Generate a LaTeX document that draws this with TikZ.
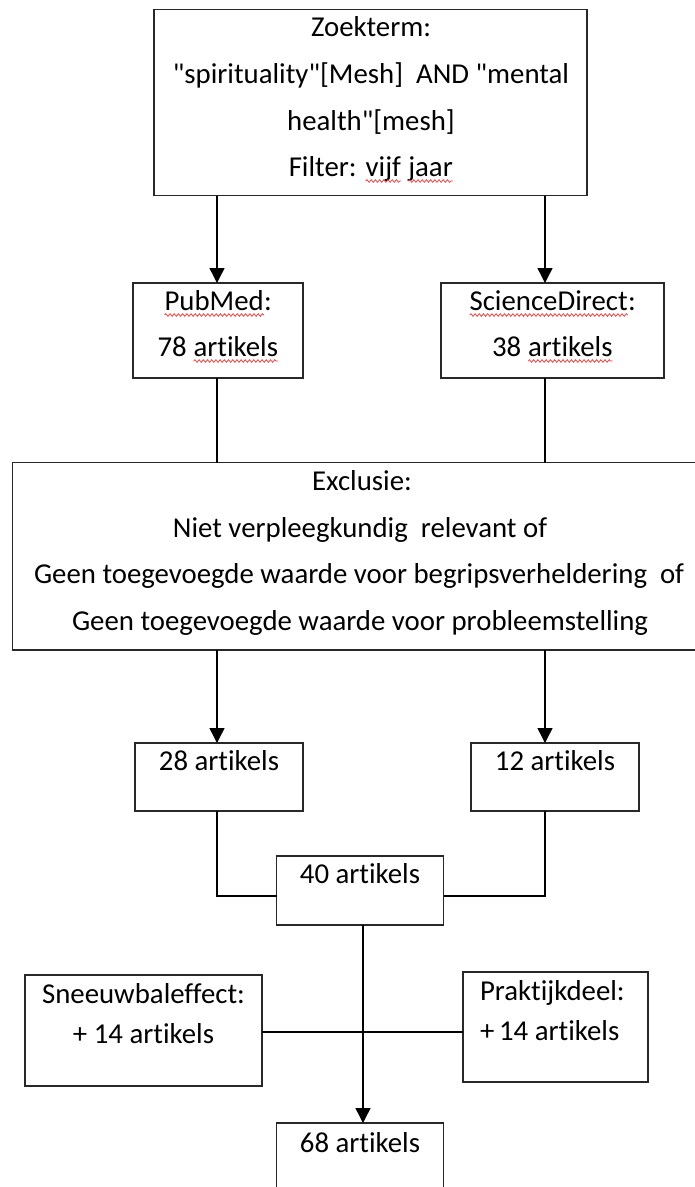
\documentclass[tikz,border=0pt]{standalone}
\usepackage{fontspec}
\newfontfamily\calfont{Carlito}[Ligatures={NoCommon,NoContextual}]
\usetikzlibrary{arrows.meta,decorations.pathmorphing}
\definecolor{squig}{RGB}{240,70,70}
\definecolor{boxline}{RGB}{40,40,40}
\newcommand\sqw[1]{\tikz[baseline=(sqwn.base)]{\node[inner sep=0pt,outer sep=0pt,anchor=base](sqwn){#1};\draw[squig,line width=0.8pt,decorate,decoration={snake,amplitude=1.3pt,segment length=4.2pt}] ([yshift=-5pt]sqwn.base west) -- ([yshift=-5pt]sqwn.base east);}}
\begin{document}
\begin{tikzpicture}[x=1pt,y=-1pt,
  box/.style={draw=boxline,line width=1.3pt,inner sep=0pt,outer sep=0pt,rectangle},
  txt/.style={inner sep=0pt,outer sep=0pt,anchor=base,font=\calfont\fontsize{28.8}{34}\selectfont},
  ln/.style={line width=1.4pt,black},
  arr/.style={ln,-{Triangle[width=15pt,length=15pt]}}]
\useasboundingbox (0,0) rectangle (695,1187);
\fill[white] (0,0) rectangle (695,1187);
\clip (0,0) rectangle (695,1187);
% boxes
\node[box,minimum width=433pt,minimum height=186pt] (top) at (370.5,102.5) {};
\node[box,minimum width=170pt,minimum height=95pt] (pub) at (218,330.5) {};
\node[box,minimum width=223pt,minimum height=95pt] (sd) at (552.5,330.5) {};
\node[box,minimum width=695.5pt,minimum height=187.5pt] (excl) at (360.25,556.25) {};
\node[box,minimum width=168pt,minimum height=68pt] (b28) at (219,777) {};
\node[box,minimum width=168pt,minimum height=68pt] (b12) at (555,777) {};
\node[box,minimum width=167pt,minimum height=69pt] (b40) at (360,890.5) {};
\node[box,minimum width=237pt,minimum height=111pt] (sneeuw) at (143.5,1030.5) {};
\node[box,minimum width=185pt,minimum height=110pt] (prak) at (555.5,1027) {};
\node[box,minimum width=167pt,minimum height=77pt] (b68) at (360,1161.5) {};
% connector guide coordinates
\coordinate (xL) at (217,0);
\coordinate (xR) at (545,0);
\coordinate (xM) at (363,0);
\coordinate (yJ) at (0,896);
\coordinate (yH) at (0,1032);
% texts
\node[txt] (t1) at (371,36) {Zoekterm:};
\node[txt] (t2) at (371,83) {"spirituality"[Mesh]\ \ AND "mental};
\node[txt] (t3) at (371,130) {health"[mesh]};
\node[txt] (t4) at (371,176) {Filter: \sqw{vijf} \sqw{jaar}};
\node[txt] (p1) at (218,310) {\sqw{PubMed}:};
\node[txt] (p2) at (218,356) {78 \sqw{artikels}};
\node[txt] (s1) at (552.5,310) {\sqw{ScienceDirect}:};
\node[txt] (s2) at (552.5,356) {38 \sqw{artikels}};
\node[txt] (e1) at (362,490) {Exclusie:};
\node[txt] (e2) at (360,537) {Niet verpleegkundig\ \ relevant of};
\node[txt] (e3) at (359,583) {Geen toegevoegde waarde voor begripsverheldering\ \ of};
\node[txt] (e4) at (360,630) {Geen toegevoegde waarde voor probleemstelling};
\node[txt] (n28) at (219,770) {28 artikels};
\node[txt] (n12) at (555,770) {12 artikels};
\node[txt] (n40) at (360,883) {40 artikels};
\node[txt] (sn1) at (143.5,1003) {Sneeuwbaleffect:};
\node[txt] (sn2) at (143.5,1043) {+ 14 artikels};
\node[txt,anchor=base west] (pr1) at (480,1000) {Praktijkdeel:};
\node[txt,anchor=base west] (pr2) at (480,1040) {+\,14 artikels};
\node[txt] (n68) at (360,1152) {68 artikels};
% connectors
\draw[arr] (top.south -| xL) -- (pub.north -| xL);
\draw[arr] (top.south -| xR) -- (sd.north -| xR);
\draw[ln] (pub.south -| xL) -- (excl.north -| xL);
\draw[ln] (sd.south -| xR) -- (excl.north -| xR);
\draw[arr] (excl.south -| xL) -- (b28.north -| xL);
\draw[arr] (excl.south -| xR) -- (b12.north -| xR);
\draw[ln] (b28.south -| xL) |- (b40.west |- yJ);
\draw[ln] (b12.south -| xR) |- (b40.east |- yJ);
\draw[arr] (b40.south -| xM) -- (b68.north -| xM);
\draw[ln] (sneeuw.east |- yH) -- (prak.west |- yH);
\end{tikzpicture}
\end{document}
